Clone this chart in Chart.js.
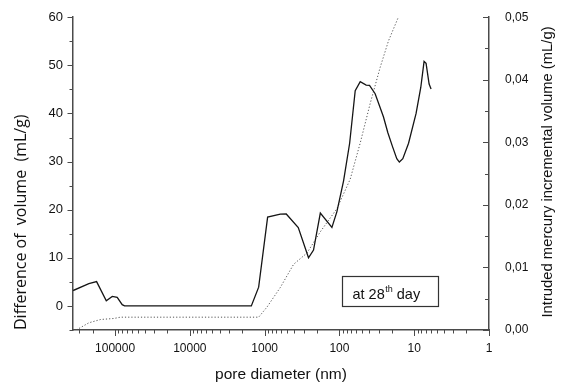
<!DOCTYPE html>
<html>
<head>
<meta charset="utf-8">
<script src="https://cdn.jsdelivr.net/npm/chart.js@4.4.1/dist/chart.umd.min.js"></script>
<style>
  html, body { margin: 0; padding: 0; background: #fff; }
  #chart { display: block; }
</style>
</head>
<body>
<canvas id="chart" width="568" height="386"></canvas>
<script>
// pore diameter (nm) vs difference of volume (mL/g) - solid line, left axis
const poreDiameter = [364000, 224000, 176600, 131000, 109000, 93600, 80200, 74700, 1506, 1202, 912, 617, 514, 355, 259, 222, 180, 126, 108, 88, 73, 61.5, 52.7, 43.9, 39.6, 33.3, 28.5, 25.8, 22.5, 19.5, 17.1, 15.8, 14.2, 11.9, 9.44, 8.17, 7.38, 6.94, 6.32, 5.95];
const diffVolume = [3.2, 4.65, 5.06, 1.09, 1.98, 1.78, 0.27, 0, 0, 3.9, 18.45, 19.07, 19.1, 16.3, 10.0, 11.6, 19.3, 16.3, 19.6, 26.0, 33.8, 44.75, 46.6, 45.9, 45.85, 44.1, 41.2, 39.3, 36.0, 33.1, 30.6, 29.9, 30.6, 33.8, 40.0, 45.4, 50.8, 50.4, 46.1, 45.1];

// intruded mercury incremental volume (mL/g) - dotted line, right axis
const intrudedDiameter = [330000, 224000, 156000, 104000, 84500, 1202, 929, 617, 410, 272, 180, 108, 71.8, 52.7, 38.8, 28.5, 22.1, 16.3];
const intrudedVolume = [0, 0.00115, 0.00168, 0.00184, 0.00205, 0.00205, 0.00367, 0.0068, 0.0105, 0.0123, 0.0157, 0.0194, 0.0241, 0.0299, 0.0362, 0.042, 0.0462, 0.05];

const xTickLabels = [100000, 10000, 1000, 100, 10, 1];
const leftTickLabels = [0, 10, 20, 30, 40, 50, 60];
const rightTickLabels = ['0,00', '0,01', '0,02', '0,03', '0,04', '0,05'];
const noteText = ['at 28', 'th', ' day'];

const AXIS = '#4a4a4a';
const TXT = '#111';

function pts(xs, ys) {
    return xs.map((v, i) => ({x: v, y: ys[i]}));
}

// ticks drawn by hand so majors can be longer than minors
const axisTicks = {
    id: 'axisTicks',
    afterDraw(chart) {
        const ctx = chart.ctx;
        const sx = chart.scales.x, sy = chart.scales.y, sr = chart.scales.y2;
        ctx.save();
        ctx.strokeStyle = AXIS;
        ctx.lineWidth = 1;
        ctx.beginPath();
        sx.ticks.forEach(t => {
            const p = Math.round(sx.getPixelForValue(t.value)) + 0.5;
            const len = xTickLabels.includes(t.value) ? 6 : 3.5;
            ctx.moveTo(p, sx.top);
            ctx.lineTo(p, sx.top + len);
        });
        sy.ticks.forEach(t => {
            const p = Math.round(sy.getPixelForValue(t.value)) + 0.5;
            const len = leftTickLabels.includes(t.value) ? 5.5 : 3.5;
            ctx.moveTo(sy.right, p);
            ctx.lineTo(sy.right - len, p);
        });
        sr.ticks.forEach((t, i) => {
            const p = Math.round(sr.getPixelForValue(t.value)) + 0.5;
            const len = i % 2 === 0 ? 6 : 4;
            ctx.moveTo(sr.left, p);
            ctx.lineTo(sr.left - len, p);
        });
        ctx.stroke();

        // right axis title, reading upward
        ctx.fillStyle = TXT;
        ctx.font = '14.8px "Liberation Sans", Arial, sans-serif';
        ctx.textAlign = 'center';
        ctx.textBaseline = 'middle';
        ctx.translate(548, 172);
        ctx.rotate(-Math.PI / 2);
        ctx.fillText('Intruded mercury incremental volume (mL/g)', 0, 0);
        ctx.restore();

        // note box
        ctx.save();
        ctx.strokeStyle = '#333';
        ctx.lineWidth = 1.2;
        ctx.strokeRect(342.5, 276.5, 96, 30);
        ctx.fillStyle = TXT;
        ctx.textBaseline = 'alphabetic';
        ctx.textAlign = 'left';
        let tx = 352.5;
        ctx.font = '14.5px "Liberation Sans", Arial, sans-serif';
        ctx.fillText(noteText[0], tx, 299);
        tx += ctx.measureText(noteText[0]).width + 0.5;
        ctx.font = '9px "Liberation Sans", Arial, sans-serif';
        ctx.fillText(noteText[1], tx, 292);
        tx += ctx.measureText(noteText[1]).width;
        ctx.font = '14.5px "Liberation Sans", Arial, sans-serif';
        ctx.fillText(noteText[2], tx, 299);
        ctx.restore();
    }
};

const tickFont = {family: '"Liberation Sans", Arial, sans-serif', size: 12};

new Chart(document.getElementById('chart'), {
    type: 'line',
    data: {
        datasets: [{
            data: pts(poreDiameter, diffVolume),
            yAxisID: 'y',
            borderColor: '#151515',
            borderWidth: 1.3,
            pointRadius: 0,
            tension: 0,
            fill: false
        }, {
            data: pts(intrudedDiameter, intrudedVolume),
            yAxisID: 'y2',
            borderColor: '#555',
            borderWidth: 1,
            borderDash: [1.2, 2],
            pointRadius: 0,
            tension: 0,
            fill: false
        }]
    },
    options: {
        responsive: false,
        animation: false,
        devicePixelRatio: 1,
        layout: {padding: {top: 12, left: 0, right: 0, bottom: 0}},
        plugins: {legend: {display: false}, tooltip: {enabled: false}},
        scales: {
            x: {
                type: 'logarithmic',
                position: 'bottom',
                reverse: true,
                min: 1,
                max: 365000,
                afterBuildTicks: s => {
                    const t = [];
                    for (let e = 0; e <= 5; e++) {
                        for (let d = 1; d <= 9; d++) {
                            const v = d * Math.pow(10, e);
                            if (v <= 365000) t.push({value: v});
                        }
                    }
                    s.ticks = t;
                },
                afterFit: s => { s.height = 56; },
                ticks: {
                    autoSkip: false,
                    maxRotation: 0,
                    padding: 5,
                    color: TXT,
                    font: tickFont,
                    callback: v => xTickLabels.includes(v) ? String(v) : ''
                },
                grid: {drawOnChartArea: false, tickLength: 6, tickColor: 'rgba(0,0,0,0)'},
                border: {color: AXIS, width: 1.5},
                title: {
                    display: true,
                    text: 'pore diameter (nm)',
                    color: TXT,
                    font: {family: '"Liberation Sans", Arial, sans-serif', size: 15.5},
                    padding: {top: 0, bottom: 2}
                }
            },
            y: {
                type: 'linear',
                position: 'left',
                min: -5,
                max: 60,
                afterBuildTicks: s => {
                    const t = [];
                    for (let v = -5; v <= 60; v += 5) t.push({value: v});
                    s.ticks = t;
                },
                afterFit: s => { s.width = 73; },
                ticks: {
                    autoSkip: false,
                    padding: 4,
                    color: TXT,
                    font: {family: '"Liberation Sans", Arial, sans-serif', size: 13},
                    callback: v => leftTickLabels.includes(v) ? String(v) : ''
                },
                grid: {drawOnChartArea: false, tickLength: 6, tickColor: 'rgba(0,0,0,0)'},
                border: {color: AXIS, width: 1.5},
                title: {
                    display: true,
                    align: 'start',
                    text: 'Difference of  volume  (mL/g)',
                    color: TXT,
                    font: {family: '"Open Sans", sans-serif', size: 16},
                    padding: {top: 12, bottom: 0}
                }
            },
            y2: {
                type: 'linear',
                position: 'right',
                min: 0,
                max: 0.05,
                afterBuildTicks: s => {
                    const t = [];
                    for (let i = 0; i <= 10; i++) t.push({value: i * 0.005});
                    s.ticks = t;
                },
                afterFit: s => { s.width = 79; },
                ticks: {
                    autoSkip: false,
                    padding: 10,
                    color: TXT,
                    font: tickFont,
                    callback: (v, i) => i % 2 === 0 ? rightTickLabels[i / 2] : ''
                },
                grid: {drawOnChartArea: false, tickLength: 6, tickColor: 'rgba(0,0,0,0)'},
                border: {color: AXIS, width: 1.5}
            }
        }
    },
    plugins: [axisTicks]
});
</script>
</body>
</html>
